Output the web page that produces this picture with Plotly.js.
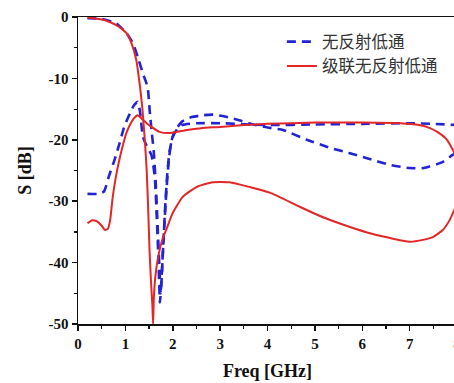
<!DOCTYPE html>
<html>
<head>
<meta charset="utf-8">
<script src="https://cdn.plot.ly/plotly-3.0.1.min.js"></script>
<style>
html,body{margin:0;padding:0;overflow:hidden;background:#fff;}
#chart{width:457px;height:383px;}
</style>
</head>
<body>
<div id="chart"></div>
<script>
// Series names (legend)
const nameBlue = "无反射低通";
const nameRed = "级联无反射低通";

// Blue dashed: transmission curve
const blueS21_f = [0.2,0.5,0.8,1.02,1.16,1.26,1.37,1.47,1.51,1.56,1.6,1.64,1.68,1.72,1.745,1.77,1.8,1.84,1.88,1.93,2.0,2.1,2.2,2.5,3.0,4.0,5.0,6.0,7.0,7.5,8.0];
const blueS21_db = [-0.2,-0.3,-1,-2.6,-4.3,-6.5,-9.2,-11.4,-15,-19,-22,-27,-34,-41,-45,-42,-37,-31,-26,-22,-19.5,-18.2,-17.6,-17.3,-17.3,-17.6,-17.5,-17.4,-17.3,-17.4,-17.6];

// Blue dashed: reflection curve
const blueS11_f = [0.2,0.45,0.55,0.65,0.77,0.88,0.97,1.05,1.12,1.19,1.26,1.31,1.37,1.45,1.55,1.62,1.66,1.7,1.73,1.76,1.8,1.86,1.92,1.98,2.05,2.2,2.4,2.63,2.85,3.1,3.4,3.7,4.0,4.33,4.83,5.32,5.74,6.1,6.59,7.0,7.3,7.7,7.9,8.0];
const blueS11_db = [-28.8,-28.8,-28.4,-26,-23.3,-20.5,-18,-16.5,-15.3,-14.3,-13.8,-15.5,-19.5,-21,-22.5,-26,-32,-40,-46.5,-43,-37,-29,-23,-20,-18.5,-17,-16.3,-16,-15.9,-16.2,-16.8,-17.5,-18,-18.4,-20,-21.3,-22.2,-23,-24.1,-24.6,-24.6,-23.6,-22.5,-22];

// Red solid: transmission curve
const redS21_f = [0.2,0.4,0.6,0.8,0.95,1.02,1.13,1.23,1.3,1.34,1.36,1.41,1.45,1.48,1.51,1.54,1.57,1.585,1.6,1.63,1.68,1.79,1.87,2.0,2.21,2.5,2.84,3.2,3.63,4.05,4.68,5.2,5.74,6.2,6.59,7.0,7.28,7.5,7.7,7.85,7.95,8.0];
const redS21_db = [-0.1,-0.3,-0.6,-1.3,-2.1,-2.6,-4.3,-7,-10.8,-13.5,-15,-20,-25,-31,-38,-43,-47,-50,-46,-42.5,-39.6,-36,-34.5,-31.9,-29.3,-27.7,-26.9,-26.9,-27.7,-28.6,-30.9,-32.7,-34.2,-35.3,-36,-36.6,-36.3,-35.8,-34.7,-33,-31.3,-30.5];

// Red solid: reflection curve
const redS11_f = [0.2,0.3,0.4,0.5,0.57,0.63,0.68,0.73,0.8,0.88,0.95,1.02,1.1,1.18,1.26,1.35,1.45,1.55,1.72,1.93,2.1,2.3,2.6,3.0,3.5,4.0,5.0,6.0,6.8,7.2,7.43,7.6,7.79,7.95,8.0];
const redS11_db = [-33.6,-33.1,-33.3,-34,-34.7,-34.5,-33,-29.5,-26,-23,-20.8,-18.9,-17.5,-16.5,-16,-16.6,-17.3,-17.9,-18.7,-18.9,-18.7,-18.4,-18.1,-17.9,-17.6,-17.4,-17.2,-17.2,-17.3,-17.6,-18.1,-18.8,-20,-22.2,-23];

const xTicks = [0,1,2,3,4,5,6,7,8];
const yTicks = [-50,-40,-30,-20,-10,0];

const blue = "#2323d6";
const red = "#e32626";
const blueLine = {color: blue, width: 2.6, dash: "9px,6px", shape: "spline", smoothing: 0.5};
const redLine = {color: red, width: 2, shape: "spline", smoothing: 0.5};

const traces = [
  {x: blueS21_f, y: blueS21_db, mode: "lines", line: blueLine, name: nameBlue, legendgroup: "b"},
  {x: blueS11_f, y: blueS11_db, mode: "lines", line: blueLine, name: nameBlue, legendgroup: "b", showlegend: false},
  {x: redS21_f, y: redS21_db, mode: "lines", line: redLine, name: nameRed, legendgroup: "r"},
  {x: redS11_f, y: redS11_db, mode: "lines", line: redLine, name: nameRed, legendgroup: "r", showlegend: false}
];

const tickFont = {family: "Liberation Serif, Times New Roman, serif", size: 15, color: "#111", weight: "bold"};
const axisCommon = {
  showgrid: false, zeroline: false, showline: true, linecolor: "#111", linewidth: 1.5,
  mirror: true, ticks: "outside", ticklen: 5, tickwidth: 1.5, tickcolor: "#111",
  tickfont: tickFont
};

const layout = {
  width: 457, height: 383,
  margin: {l: 78, r: 0, t: 17, b: 59},
  paper_bgcolor: "#fff", plot_bgcolor: "#fff",
  showlegend: true,
  legend: {
    x: 0.538, y: 0.976, xanchor: "left", yanchor: "top",
    bgcolor: "rgba(0,0,0,0)", borderwidth: 0,
    font: {family: "Noto Sans CJK SC, sans-serif", size: 16.5, color: "#333"},
    tracegroupgap: 0, itemwidth: 30
  },
  xaxis: Object.assign({}, axisCommon, {
    range: [0, 8], tickvals: xTicks, ticktext: xTicks.map(String),
    ticklabeloverflow: "allow",
    minor: {ticks: "outside", ticklen: 3, tickwidth: 1.2, tickcolor: "#111", dtick: 0.5, tick0: 0},
    title: {text: "<b>Freq [GHz]</b>", font: {family: "Liberation Serif, serif", size: 18, color: "#111"}, standoff: 14}
  }),
  yaxis: Object.assign({}, axisCommon, {
    range: [-50, 0], tickvals: yTicks, ticktext: yTicks.map(String),
    minor: {ticks: "outside", ticklen: 3, tickwidth: 1.2, tickcolor: "#111", dtick: 5, tick0: 0},
    title: {text: "<b>S [dB]</b>", font: {family: "Liberation Serif, serif", size: 18, color: "#111"}, standoff: 12}
  })
};

Plotly.newPlot("chart", traces, layout, {displayModeBar: false, staticPlot: true});
</script>
</body>
</html>
